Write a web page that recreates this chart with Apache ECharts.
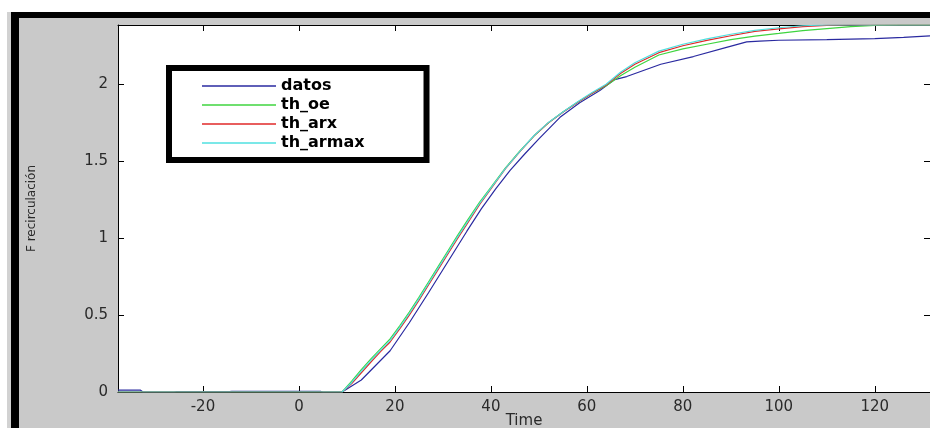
<!DOCTYPE html>
<html>
<head>
<meta charset="utf-8">
<script src="https://cdn.jsdelivr.net/npm/echarts@6/dist/echarts.min.js"></script>
<style>
  html, body { margin: 0; padding: 0; background: #ffffff; }
  #wrap { position: relative; width: 930px; height: 428px; overflow: hidden; background: #ffffff; }
  #strip { position: absolute; left: 7px; top: 12px; width: 4px; height: 416px; background: #d2d2d2; }
  #frame { position: absolute; left: 11px; top: 12px; right: 0; bottom: 0; background: #000000; }
  #grey { position: absolute; left: 19px; top: 18px; right: 0; bottom: 0; background: #c9c9c9; }
  #chart { position: absolute; left: 0; top: 0; width: 930px; height: 428px; }
</style>
</head>
<body>
<div id="wrap">
  <div id="strip"></div>
  <div id="frame"></div>
  <div id="grey"></div>
  <div id="chart"></div>
</div>
<script>
// ---- data ----
const xMin = -37.7;
const xMax = 131.5;
const yMin = 0;
const yMax = 2.385;

const seriesNames = ['datos', 'th_oe', 'th_arx', 'th_armax'];

const tDatos = [-37.7, -33, -32.5, -26, -25.5, -14.5, -14, 4.5, 5, 9, 13, 19, 23, 27, 31, 35, 38, 41, 44, 47, 50, 54.4, 58.5, 62.7, 65.8, 68.3, 75.4, 82.2, 89.1, 93.3, 96, 100, 110, 120, 126, 131.5];
const vDatos = [0.012, 0.012, 0, 0, 0.003, 0.003, 0.004, 0.004, 0, 0, 0.078, 0.268, 0.45, 0.645, 0.845, 1.045, 1.19, 1.32, 1.44, 1.545, 1.645, 1.785, 1.88, 1.96, 2.03, 2.05, 2.13, 2.18, 2.24, 2.275, 2.28, 2.286, 2.29, 2.297, 2.305, 2.314];

const tModel = [-37.7, 9, 11, 13, 15, 17, 19, 21, 23, 25, 27, 29, 31, 33, 35, 37.7, 40, 43, 46, 49, 52, 55, 58, 61, 64, 67, 70, 75, 80, 85, 90, 95, 100, 105, 110, 115, 120, 125, 131.5];
const vOe    = [0, 0, 0.07, 0.145, 0.215, 0.28, 0.345, 0.43, 0.52, 0.615, 0.715, 0.815, 0.915, 1.015, 1.11, 1.235, 1.33, 1.455, 1.565, 1.665, 1.75, 1.82, 1.882, 1.94, 1.99, 2.055, 2.11, 2.19, 2.23, 2.26, 2.29, 2.313, 2.33, 2.348, 2.362, 2.375, 2.383, 2.385, 2.385];
const vArx   = [0, 0, 0.055, 0.125, 0.195, 0.262, 0.325, 0.41, 0.5, 0.595, 0.695, 0.795, 0.895, 0.995, 1.09, 1.22, 1.32, 1.45, 1.56, 1.665, 1.75, 1.818, 1.882, 1.94, 1.995, 2.07, 2.13, 2.205, 2.25, 2.285, 2.315, 2.343, 2.36, 2.375, 2.383, 2.385, 2.385, 2.385, 2.385];
const vArmax = [0, 0, 0.062, 0.135, 0.205, 0.272, 0.335, 0.42, 0.51, 0.605, 0.705, 0.805, 0.905, 1.005, 1.1, 1.228, 1.325, 1.452, 1.562, 1.667, 1.752, 1.82, 1.885, 1.945, 2.0, 2.078, 2.14, 2.215, 2.26, 2.295, 2.325, 2.35, 2.367, 2.38, 2.385, 2.385, 2.385, 2.385, 2.385];

const xName = 'Time';
const yName = 'F recirculación';

const colors = ['#2a2aa0', '#3fd43f', '#e02828', '#4fe0e0'];

// ---- build ----
function pairs(t, v) { return t.map((x, i) => [x, v[i]]); }
const seriesData = [pairs(tDatos, vDatos), pairs(tModel, vOe), pairs(tModel, vArx), pairs(tModel, vArmax)];

const FONT = 'DejaVu Sans, Verdana, Arial, sans-serif';
const labelStyle = { color: '#2a2a2a', fontFamily: FONT, fontSize: 15 };
const axisLineStyle = { show: true, onZero: false, lineStyle: { color: '#000', width: 1 } };
const tickStyle = { show: true, inside: true, length: 6, lineStyle: { color: '#000' } };

const chart = echarts.init(document.getElementById('chart'), null, { renderer: 'canvas' });
const option = {
  animation: false,
  backgroundColor: 'transparent',
  grid: { left: 118, right: 0, top: 25, bottom: 36, show: true, backgroundColor: '#ffffff', borderWidth: 0, containLabel: false, outerBoundsMode: 'none' },
  legend: {
    orient: 'vertical',
    left: 169, top: 68,
    data: seriesNames.map(n => ({ name: n, icon: 'rect' })),
    backgroundColor: '#ffffff',
    borderColor: '#000000',
    borderWidth: 6,
    padding: [10, 62, 9, 33],
    itemWidth: 74, itemHeight: 1.5, itemGap: 3,
    textStyle: { color: '#000000', fontFamily: FONT, fontWeight: 'bold', fontSize: 16, lineHeight: 16 },
    selectedMode: false
  },
  xAxis: [
    {
      type: 'value', position: 'bottom', min: xMin, max: xMax, splitNumber: 8,
      name: xName, nameLocation: 'middle', nameGap: 22, nameMoveOverlap: false,
      nameTextStyle: { color: '#2a2a2a', fontFamily: FONT, fontSize: 15, verticalAlign: 'top' },
      axisLine: axisLineStyle, axisTick: tickStyle,
      axisLabel: Object.assign({ margin: 8, showMinLabel: false, showMaxLabel: false }, labelStyle),
      splitLine: { show: false }
    },
    {
      type: 'value', position: 'top', min: xMin, max: xMax, splitNumber: 8,
      axisLine: axisLineStyle, axisTick: tickStyle,
      axisLabel: { show: false }, splitLine: { show: false }
    }
  ],
  yAxis: [
    {
      type: 'value', position: 'left', min: yMin, max: yMax, splitNumber: 5,
      name: yName, nameLocation: 'middle', nameGap: 80, nameRotate: 90, nameMoveOverlap: false,
      nameTextStyle: { color: '#2a2a2a', fontFamily: FONT, fontSize: 12 },
      axisLine: axisLineStyle, axisTick: tickStyle,
      axisLabel: Object.assign({ margin: 10, showMaxLabel: false }, labelStyle),
      splitLine: { show: false }
    },
    {
      type: 'value', position: 'right', min: yMin, max: yMax, splitNumber: 5,
      axisLine: axisLineStyle, axisTick: tickStyle,
      axisLabel: { show: false }, splitLine: { show: false }
    }
  ],
  series: seriesNames.map((n, i) => ({
    name: n, type: 'line', data: seriesData[i],
    xAxisIndex: 0, yAxisIndex: 0,
    symbol: 'none', showSymbol: false, smooth: false, clip: true,
    lineStyle: { color: colors[i], width: 1.2 },
    itemStyle: { color: colors[i] },
    z: 2 + i
  }))
};
chart.setOption(option);
</script>
</body>
</html>
